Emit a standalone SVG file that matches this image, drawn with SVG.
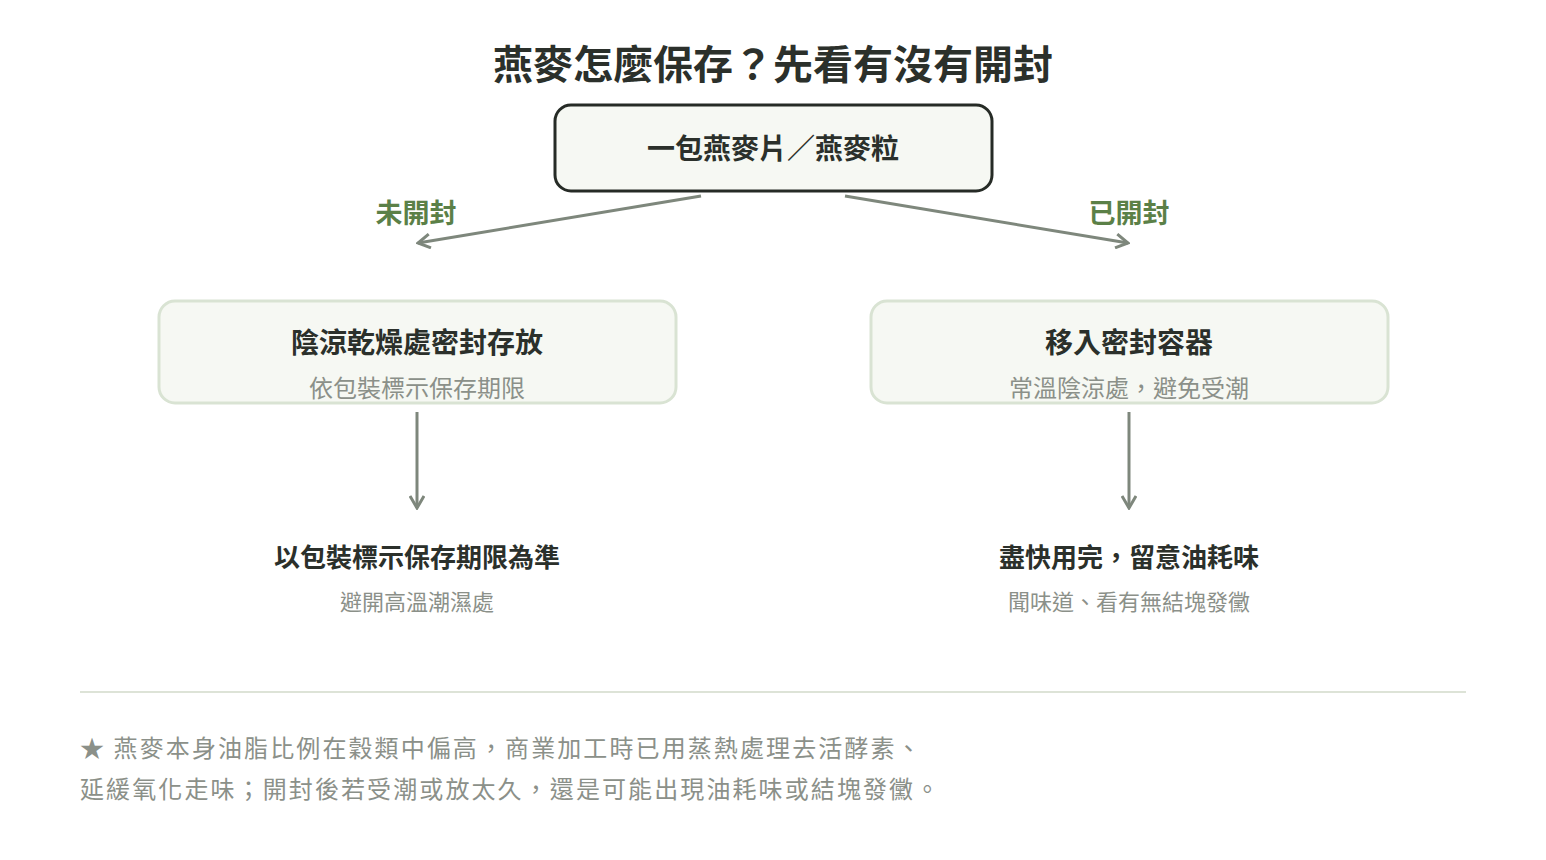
<svg xmlns="http://www.w3.org/2000/svg" width="1546" height="860" viewBox="0 0 1546 860">
<defs>
<style>
text{font-family:"Noto Sans CJK TC","Noto Sans CJK SC",sans-serif;text-anchor:middle}
.title{font-size:40px;font-weight:700;fill:#2b302b}
.h{font-size:28px;font-weight:700;fill:#2b302b}
.h2{font-size:26px;font-weight:700;fill:#2b302b}
.sub{font-size:24px;fill:#8b9089}
.sub2{font-size:22px;fill:#8b9089}
.lbl{font-size:27px;font-weight:700;fill:#5b8047}
.note{font-size:24px;fill:#8b9089;text-anchor:start;letter-spacing:2.1px}
.box{fill:#f6f8f3;stroke:#d9e3d3;stroke-width:3}
.conn{stroke:#7e877c;stroke-width:3;fill:none}
</style>
<marker id="ah" viewBox="0 0 16 16" refX="14" refY="8" markerWidth="16" markerHeight="16" markerUnits="userSpaceOnUse" orient="auto">
<path d="M2,1 L14,8 L2,15" fill="none" stroke="#7e877c" stroke-width="3"/>
</marker>
</defs>
<rect width="1546" height="860" fill="#ffffff"/>
<text class="title" x="773" y="79">燕麥怎麼保存？先看有沒有開封</text>
<g id="connectors">
<line class="conn" x1="701" y1="196" x2="418" y2="243" marker-end="url(#ah)"/>
<line class="conn" x1="845" y1="196" x2="1128" y2="243" marker-end="url(#ah)"/>
<line class="conn" x1="417" y1="412" x2="417" y2="508" marker-end="url(#ah)"/>
<line class="conn" x1="1129" y1="412" x2="1129" y2="508" marker-end="url(#ah)"/>
<text class="lbl" x="416" y="223">未開封</text>
<text class="lbl" x="1129" y="223">已開封</text>
</g>
<g id="start">
<rect x="555" y="105" width="437" height="86" rx="16" fill="#f6f8f3" stroke="#262b26" stroke-width="3"/>
<text class="h" x="773" y="159">一包燕麥片／燕麥粒</text>
</g>
<g id="unopened">
<rect class="box" x="159" y="301" width="517" height="102" rx="16"/>
<text class="h" x="417" y="353">陰涼乾燥處密封存放</text>
<text class="sub" x="417" y="397">依包裝標示保存期限</text>
</g>
<g id="opened">
<rect class="box" x="871" y="301" width="517" height="102" rx="16"/>
<text class="h" x="1129" y="353">移入密封容器</text>
<text class="sub" x="1129" y="397">常溫陰涼處，避免受潮</text>
</g>
<g id="unopened-result">
<text class="h2" x="417" y="567">以包裝標示保存期限為準</text>
<text class="sub2" x="417" y="610">避開高溫潮濕處</text>
</g>
<g id="opened-result">
<text class="h2" x="1129" y="567">盡快用完，留意油耗味</text>
<text class="sub2" x="1129" y="610">聞味道、看有無結塊發黴</text>
</g>
<line x1="80" y1="692" x2="1466" y2="692" stroke="#dde3d7" stroke-width="2"/>
<text class="note" x="80" y="757">★ 燕麥本身油脂比例在穀類中偏高，商業加工時已用蒸熱處理去活酵素、</text>
<text class="note" x="80" y="798">延緩氧化走味；開封後若受潮或放太久，還是可能出現油耗味或結塊發黴。</text>
</svg>
